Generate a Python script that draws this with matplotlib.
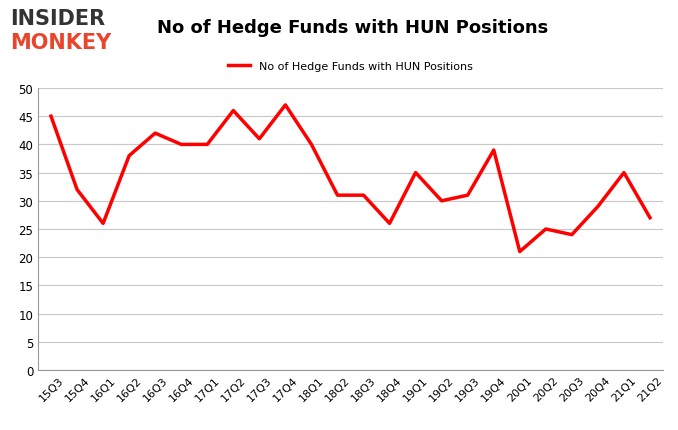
import matplotlib
matplotlib.use("Agg")
import matplotlib.pyplot as plt

quarters = ["15Q3", "15Q4", "16Q1", "16Q2", "16Q3", "16Q4", "17Q1", "17Q2",
            "17Q3", "17Q4", "18Q1", "18Q2", "18Q3", "18Q4", "19Q1", "19Q2",
            "19Q3", "19Q4", "20Q1", "20Q2", "20Q3", "20Q4", "21Q1", "21Q2"]
funds = [45, 32, 26, 38, 42, 40, 40, 46, 41, 47, 40, 31, 31, 26, 35, 30,
         31, 39, 21, 25, 24, 29, 35, 27]

fig = plt.figure(figsize=(6.78, 4.31), dpi=100)
ax = fig.add_axes([38 / 678, 60 / 431, 625 / 678, 282 / 431])
ax.plot(range(len(funds)), funds, color="#ff0000", linewidth=2.5,
        label="No of Hedge Funds with HUN Positions")
ax.set_xlim(-0.5, len(funds) - 0.5)
ax.set_ylim(0, 50)
ax.set_yticks(range(0, 51, 5))
ax.set_xticks(range(len(funds)))
ax.set_xticklabels(quarters, rotation=45, fontsize=8)
ax.tick_params(axis="y", labelsize=8.5, length=0)
ax.tick_params(axis="x", length=0)
ax.grid(axis="y", color="#c8c8c8", linewidth=0.8)
ax.set_axisbelow(True)
for side in ["top", "right"]:
    ax.spines[side].set_visible(False)
ax.spines["bottom"].set_color("#999999")
ax.spines["left"].set_color("#999999")
ax.legend(loc="upper center", bbox_to_anchor=(0.5, 1.13), frameon=False,
          fontsize=8)

fig.text(0.52, 0.935, "No of Hedge Funds with HUN Positions", ha="center",
         va="center", fontsize=13, fontweight="bold")
fig.text(0.015, 0.955, "INSIDER", fontsize=15, fontweight="bold",
         color="#333333", va="center")
fig.text(0.015, 0.9, "MONKEY", fontsize=15, fontweight="bold",
         color="#e8452c", va="center")

fig.savefig("out.png", dpi=100)
